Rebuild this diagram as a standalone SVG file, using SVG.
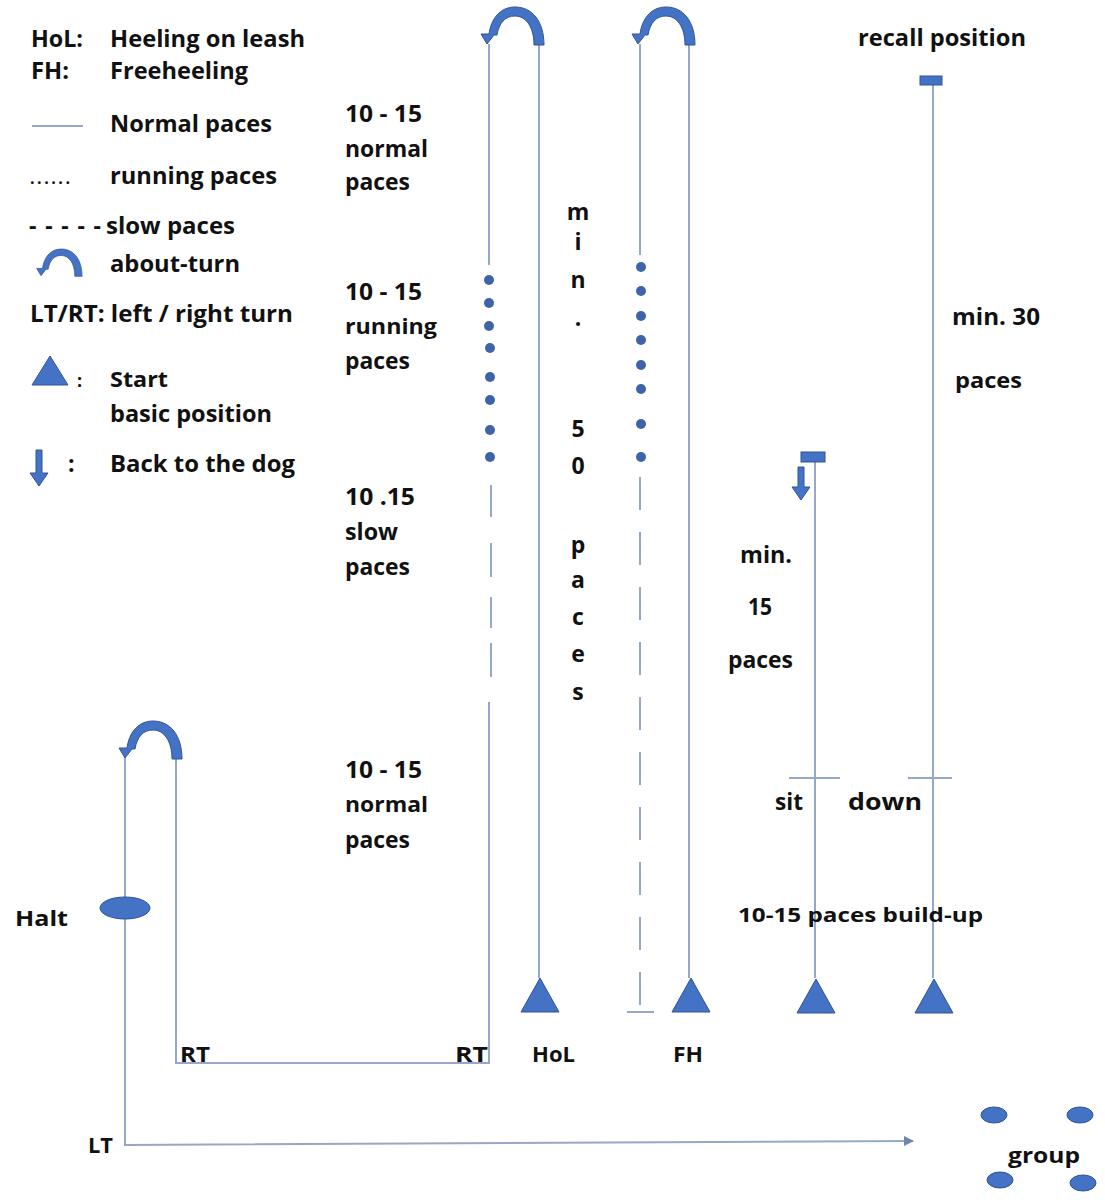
<svg xmlns="http://www.w3.org/2000/svg" width="1105" height="1202" viewBox="0 0 1105 1202">
<style>
.t{font-family:"Open Sans","Liberation Sans",sans-serif;font-weight:700;font-size:23px;fill:#111}
.s{font-size:21px}
.ln{stroke:#96A8C8;stroke-width:2;fill:none}
.dash{stroke-dasharray:33 22}
.blue{fill:#4472C4;stroke:#2F5597;stroke-width:1}
.dot{fill:#3F63A8}
</style>
<defs>
<path id="about" class="blue" d="M 57 38 C 57 14, 45 0, 28 0 C 13 0, 4 12, 2 27 L -6 27 L 0 37 L 7 28 L 10 28 C 12 16, 18 9, 28 9 C 39 9, 47 20, 47 38 Z"/>
<polygon id="tri" class="blue" points="0,-34 19,0 -19,0"/>
<marker id="ah" viewBox="0 0 10 10" refX="9" refY="5" markerWidth="14" markerHeight="10" markerUnits="userSpaceOnUse" orient="auto">
<path d="M0,0 L10,5 L0,10 Z" fill="#6F86B0"/>
</marker>
</defs>

<g id="legend">
<text class="t" x="31" y="47" textLength="52" lengthAdjust="spacingAndGlyphs">HoL:</text>
<text class="t" x="110" y="47" textLength="195" lengthAdjust="spacingAndGlyphs">Heeling on leash</text>
<text class="t" x="31" y="79" textLength="38" lengthAdjust="spacingAndGlyphs">FH:</text>
<text class="t" x="110" y="79" textLength="138" lengthAdjust="spacingAndGlyphs">Freeheeling</text>
<line class="ln" x1="32" y1="126" x2="83" y2="126"/>
<text class="t" x="110" y="132" textLength="162" lengthAdjust="spacingAndGlyphs">Normal paces</text>
<text class="t" x="30" y="184" style="font-size:16px" textLength="40" lengthAdjust="spacing">......</text>
<text class="t" x="110" y="184" textLength="167" lengthAdjust="spacingAndGlyphs">running paces</text>
<text class="t" x="29" y="234" textLength="72" lengthAdjust="spacing">- - - - -</text>
<text class="t" x="106" y="234" textLength="129" lengthAdjust="spacingAndGlyphs">slow paces</text>
<use href="#about" transform="translate(41,249) scale(0.72)"/>
<text class="t" x="110" y="272" textLength="130" lengthAdjust="spacingAndGlyphs">about-turn</text>
<text class="t" x="30" y="322" textLength="263" lengthAdjust="spacingAndGlyphs">LT/RT: left / right turn</text>
<polygon class="blue" points="32,385 68,385 50,356"/>
<text class="t" x="77" y="387" style="font-size:18px">:</text>
<text class="t s" x="110" y="387" textLength="58" lengthAdjust="spacingAndGlyphs">Start</text>
<text class="t" x="110" y="422" textLength="162" lengthAdjust="spacingAndGlyphs">basic position</text>
<path class="blue" d="M36,450 h6 v23 h6 l-9,13 l-9,-13 h6 Z"/>
<text class="t" x="68" y="472">:</text>
<text class="t" x="110" y="472" textLength="185" lengthAdjust="spacingAndGlyphs">Back to the dog</text>
</g>

<g id="connectors">
<line class="ln" x1="539" y1="978" x2="539" y2="45"/>
<line class="ln" x1="489" y1="44" x2="489" y2="265"/>
<line class="ln" x1="491" y1="485" x2="491" y2="517"/>
<line class="ln" x1="491" y1="543" x2="491" y2="577"/>
<line class="ln" x1="491" y1="597" x2="491" y2="628"/>
<line class="ln" x1="491" y1="643" x2="491" y2="677"/>
<polyline class="ln" points="489,702 489,1063 176,1063 176,759"/>
<polyline class="ln" points="125,758 125,1145 913,1141" marker-end="url(#ah)"/>
<line class="ln" x1="689" y1="978" x2="689" y2="45"/>
<line class="ln" x1="640" y1="44" x2="640" y2="255"/>
<line class="ln dash" x1="640" y1="477" x2="640" y2="1012"/>
<line class="ln" x1="627" y1="1012" x2="654" y2="1012"/>
<line class="ln" x1="815" y1="978" x2="815" y2="460"/>
<line class="ln" x1="933" y1="978" x2="933" y2="84"/>
<line class="ln" x1="789" y1="778" x2="840" y2="778"/>
<line class="ln" x1="908" y1="778" x2="952" y2="778"/>
</g>

<g id="about-turns">
<use href="#about" transform="translate(487,7)"/>
<use href="#about" transform="translate(638,7)"/>
<use href="#about" transform="translate(125,721)"/>
</g>

<g id="running-dots" class="dot">
<circle cx="489" cy="280" r="5"/><circle cx="489" cy="303" r="5"/><circle cx="489" cy="326" r="5"/><circle cx="490" cy="348" r="5"/><circle cx="490" cy="377" r="5"/><circle cx="490" cy="400" r="5"/><circle cx="490" cy="430" r="5"/><circle cx="490" cy="457" r="5"/>
<circle cx="641" cy="267" r="5"/><circle cx="641" cy="291" r="5"/><circle cx="641" cy="316" r="5"/><circle cx="641" cy="340" r="5"/><circle cx="641" cy="365" r="5"/><circle cx="641" cy="389" r="5"/><circle cx="641" cy="424" r="5"/><circle cx="641" cy="457" r="5"/>
</g>

<g id="start-HoL"><use href="#tri" transform="translate(540,1012)"/></g>
<g id="start-FH"><use href="#tri" transform="translate(691,1012)"/></g>
<g id="start-sit"><use href="#tri" transform="translate(816,1013)"/></g>
<g id="start-recall"><use href="#tri" transform="translate(934,1013)"/></g>

<g id="sit-marker">
<rect class="blue" x="801" y="452" width="24" height="10"/>
<path class="blue" d="M798,467 h6 v20 h6 l-9,13 l-9,-13 h6 Z"/>
</g>
<g id="recall-marker"><rect class="blue" x="920" y="76" width="22" height="9"/></g>

<g id="halt"><ellipse class="blue" cx="125" cy="908" rx="25" ry="11"/></g>
<g id="group">
<ellipse class="blue" cx="994" cy="1115" rx="13" ry="8"/>
<ellipse class="blue" cx="1080" cy="1115" rx="13" ry="8"/>
<ellipse class="blue" cx="1000" cy="1180" rx="13" ry="8"/>
<ellipse class="blue" cx="1083" cy="1183" rx="13" ry="8"/>
</g>

<g id="labels">
<text class="t" x="345" y="122" textLength="77" lengthAdjust="spacingAndGlyphs">10 - 15</text>
<text class="t" x="345" y="157" textLength="83" lengthAdjust="spacingAndGlyphs">normal</text>
<text class="t" x="345" y="190" textLength="65" lengthAdjust="spacingAndGlyphs">paces</text>
<text class="t" x="345" y="300" textLength="77" lengthAdjust="spacingAndGlyphs">10 - 15</text>
<text class="t s" x="345" y="334" textLength="92" lengthAdjust="spacingAndGlyphs">running</text>
<text class="t" x="345" y="369" textLength="65" lengthAdjust="spacingAndGlyphs">paces</text>
<text class="t" x="345" y="505" textLength="70" lengthAdjust="spacingAndGlyphs">10 .15</text>
<text class="t" x="345" y="540" textLength="53" lengthAdjust="spacingAndGlyphs">slow</text>
<text class="t" x="345" y="575" textLength="65" lengthAdjust="spacingAndGlyphs">paces</text>
<text class="t" x="345" y="778" textLength="77" lengthAdjust="spacingAndGlyphs">10 - 15</text>
<text class="t s" x="345" y="812" textLength="83" lengthAdjust="spacingAndGlyphs">normal</text>
<text class="t" x="345" y="848" textLength="65" lengthAdjust="spacingAndGlyphs">paces</text>

<g text-anchor="middle">
<text class="t" x="578" y="220">m</text>
<text class="t" x="578" y="250">i</text>
<text class="t" x="578" y="288">n</text>
<text class="t" x="578" y="326">.</text>
<text class="t" x="578" y="437">5</text>
<text class="t" x="578" y="474">0</text>
<text class="t" x="578" y="553">p</text>
<text class="t" x="578" y="588">a</text>
<text class="t" x="578" y="625">c</text>
<text class="t" x="578" y="662">e</text>
<text class="t" x="578" y="700">s</text>
</g>

<text class="t" x="858" y="46" textLength="168" lengthAdjust="spacingAndGlyphs">recall position</text>
<text class="t" x="952" y="325" textLength="88" lengthAdjust="spacingAndGlyphs">min. 30</text>
<text class="t s" x="955" y="388" textLength="67" lengthAdjust="spacingAndGlyphs">paces</text>
<text class="t" x="740" y="563" textLength="52" lengthAdjust="spacingAndGlyphs">min.</text>
<text class="t" x="748" y="615" textLength="24" lengthAdjust="spacingAndGlyphs">15</text>
<text class="t" x="728" y="668" textLength="65" lengthAdjust="spacingAndGlyphs">paces</text>
<text class="t" x="775" y="810" textLength="28" lengthAdjust="spacingAndGlyphs">sit</text>
<text class="t" x="848" y="810" textLength="74" lengthAdjust="spacingAndGlyphs">down</text>
<text class="t" x="738" y="922" style="font-size:19px" textLength="245" lengthAdjust="spacingAndGlyphs">10-15 paces build-up</text>
<text class="t s" x="15" y="926" textLength="53" lengthAdjust="spacingAndGlyphs">Halt</text>
<text class="t s" x="180" y="1062" textLength="30" lengthAdjust="spacingAndGlyphs">RT</text>
<text class="t s" x="455" y="1062" textLength="33" lengthAdjust="spacingAndGlyphs">RT</text>
<text class="t s" x="532" y="1062" textLength="43" lengthAdjust="spacingAndGlyphs">HoL</text>
<text class="t s" x="673" y="1062" textLength="30" lengthAdjust="spacingAndGlyphs">FH</text>
<text class="t s" x="88" y="1153" textLength="25" lengthAdjust="spacingAndGlyphs">LT</text>
<text class="t s" x="1008" y="1163" textLength="72" lengthAdjust="spacingAndGlyphs">group</text>
</g>
</svg>
